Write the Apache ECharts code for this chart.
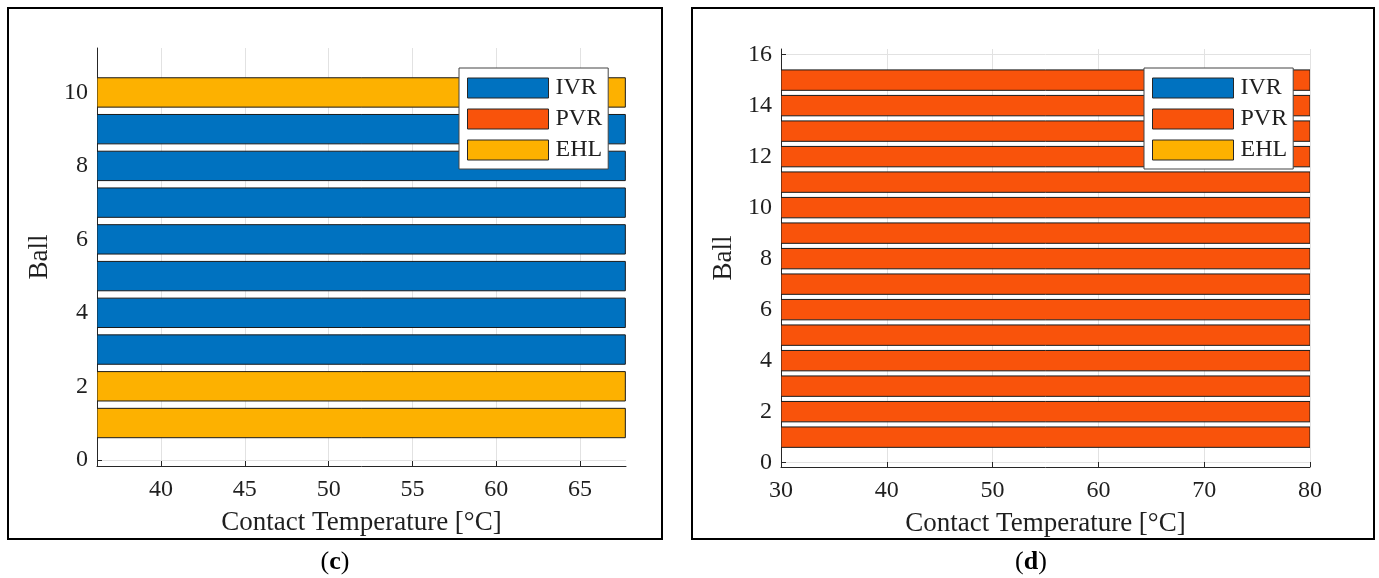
<!DOCTYPE html>
<html>
<head>
<meta charset="utf-8">
<script src="https://cdn.jsdelivr.net/npm/echarts@6/dist/echarts.min.js"></script>
<style>
  html, body { margin: 0; padding: 0; background: #fff; }
  #chart { width: 1379px; height: 578px; }
</style>
</head>
<body>
<div id="chart"></div>
<script>
// ---------- Data ----------
const regimes = ['IVR', 'PVR', 'EHL'];

// Panel (c)
const ballsC = [1, 2, 3, 4, 5, 6, 7, 8, 9, 10];
const regimeC = ['EHL', 'EHL', 'IVR', 'IVR', 'IVR', 'IVR', 'IVR', 'IVR', 'IVR', 'EHL'];
const tempC = [67.7, 67.7, 67.7, 67.7, 67.7, 67.7, 67.7, 67.7, 67.7, 67.7];
const xRangeC = [36.18, 67.74];
const yRangeC = [-0.17, 11.21];
const xTicksC = [40, 45, 50, 55, 60, 65];
const yTicksC = [0, 2, 4, 6, 8, 10];

// Panel (d)
const ballsD = [1, 2, 3, 4, 5, 6, 7, 8, 9, 10, 11, 12, 13, 14, 15];
const regimeD = ['PVR', 'PVR', 'PVR', 'PVR', 'PVR', 'PVR', 'PVR', 'PVR', 'PVR', 'PVR', 'PVR', 'PVR', 'PVR', 'PVR', 'PVR'];
const tempD = [80, 80, 80, 80, 80, 80, 80, 80, 80, 80, 80, 80, 80, 80, 80];
const xRangeD = [30, 80];
const yRangeD = [-0.17, 16.22];
const xTicksD = [30, 40, 50, 60, 70, 80];
const yTicksD = [0, 2, 4, 6, 8, 10, 12, 14, 16];

const xTitle = 'Contact Temperature [°C]';
const yTitle = 'Ball';

// ---------- Styles ----------
const colors = { IVR: '#0072C0', PVR: '#F9530B', EHL: '#FDB100' };
const FONT = "'Liberation Serif', 'Times New Roman', serif";
const TXT = '#1f1f1f';
const AX = '#262626';
const GRIDC = '#e2e2e2';
const BAR_W = 0.8;

function makeXAxis(gridIndex, range, ticks) {
  return {
    type: 'value', gridIndex: gridIndex, min: range[0], max: range[1],
    name: xTitle, nameLocation: 'middle', nameGap: 43,
    nameTextStyle: { fontFamily: FONT, fontSize: 27, color: TXT },
    axisLine: { show: true, onZero: false, lineStyle: { color: AX, width: 1 } },
    axisTick: { show: true, inside: true, length: 5, customValues: ticks, lineStyle: { color: AX } },
    axisLabel: { customValues: ticks, fontFamily: FONT, fontSize: 24, color: TXT, margin: 12 },
    splitLine: { show: true, lineStyle: { color: GRIDC, width: 1 } }
  };
}
function makeYAxis(gridIndex, range, ticks) {
  return {
    type: 'value', gridIndex: gridIndex, min: range[0], max: range[1],
    name: yTitle, nameLocation: 'middle', nameGap: 44, nameRotate: 90,
    nameTextStyle: { fontFamily: FONT, fontSize: 27, color: TXT },
    axisLine: { show: true, onZero: false, lineStyle: { color: AX, width: 1 } },
    axisTick: { show: true, inside: true, length: 5, customValues: ticks, lineStyle: { color: AX } },
    axisLabel: { customValues: ticks, fontFamily: FONT, fontSize: 24, color: TXT, margin: 9 },
    splitLine: { show: true, lineStyle: { color: GRIDC, width: 1 } }
  };
}

function makeSeries(gridIndex, balls, regime, temp, xMin) {
  return regimes.map(function (r) {
    const data = [];
    for (let i = 0; i < balls.length; i++) {
      if (regime[i] === r) data.push([temp[i], balls[i]]);
    }
    return {
      name: r, type: 'custom', xAxisIndex: gridIndex, yAxisIndex: gridIndex,
      itemStyle: { color: colors[r] },
      encode: { x: 0, y: 1 },
      clip: true,
      renderItem: function (params, api) {
        const x = api.value(0), y = api.value(1);
        const p0 = api.coord([xMin, y]);
        const p1 = api.coord([x, y]);
        const h = api.size([0, BAR_W])[1];
        return {
          type: 'rect',
          shape: { x: p0[0], y: p0[1] - h / 2, width: p1[0] - p0[0], height: h },
          style: { fill: api.visual('color'), stroke: '#1a1a1a', lineWidth: 1 }
        };
      },
      data: data
    };
  });
}

function makeLegend(left, top) {
  return {
    left: left, top: top, orient: 'vertical', icon: 'rect',
    data: regimes,
    itemWidth: 81, itemHeight: 20, itemGap: 7,
    backgroundColor: '#fff', borderColor: '#444', borderWidth: 1,
    padding: [8, 6, 7, 8],
    itemStyle: { borderColor: '#262626', borderWidth: 1 },
    textStyle: { fontFamily: FONT, fontSize: 24, color: TXT, padding: [0, 0, 0, 2] },
    selectedMode: false
  };
}

const chart = echarts.init(document.getElementById('chart'), null, { renderer: 'canvas' });
chart.setOption({
  animation: false,
  backgroundColor: '#fff',
  grid: [
    { left: 97, top: 48, width: 529, height: 418 },
    { left: 781, top: 49, width: 529, height: 418 }
  ],
  xAxis: [makeXAxis(0, xRangeC, xTicksC), makeXAxis(1, xRangeD, xTicksD)],
  yAxis: [makeYAxis(0, yRangeC, yTicksC), makeYAxis(1, yRangeD, yTicksD)],
  legend: [makeLegend(459, 68), makeLegend(1144, 68)],
  series: makeSeries(0, ballsC, regimeC, tempC, xRangeC[0]).concat(
          makeSeries(1, ballsD, regimeD, tempD, xRangeD[0])),
  graphic: [
    { type: 'rect', shape: { x: 8, y: 8, width: 654, height: 531 },
      style: { fill: 'none', stroke: '#000', lineWidth: 2 }, silent: true },
    { type: 'rect', shape: { x: 692, y: 8, width: 682, height: 531 },
      style: { fill: 'none', stroke: '#000', lineWidth: 2 }, silent: true },
    { type: 'text', x: 335, y: 562,
      style: { text: '{n|(}{b|c}{n|)}', align: 'center', verticalAlign: 'middle',
        rich: { n: { fontFamily: FONT, fontSize: 26, fill: '#000' },
                b: { fontFamily: FONT, fontSize: 26, fontWeight: 'bold', fill: '#000' } } } },
    { type: 'text', x: 1031, y: 562,
      style: { text: '{n|(}{b|d}{n|)}', align: 'center', verticalAlign: 'middle',
        rich: { n: { fontFamily: FONT, fontSize: 26, fill: '#000' },
                b: { fontFamily: FONT, fontSize: 26, fontWeight: 'bold', fill: '#000' } } } }
  ]
});
</script>
</body>
</html>
